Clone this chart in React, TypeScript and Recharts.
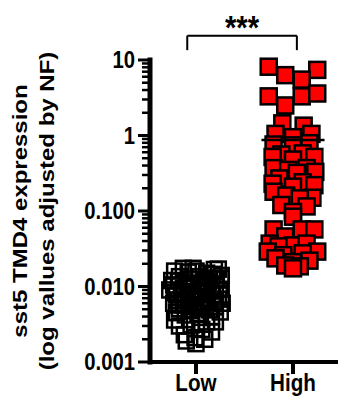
import React from 'react';
import { ScatterChart, Scatter, XAxis, YAxis, ReferenceLine } from 'recharts';

// Categories (x positions 1 and 2)
const categories = ['Low', 'High'];

// High group: expression values and horizontal jitter (category units)
const highValues = [
  8.15, 6.3, 7.4, 5.5, 3.3, 2.5, 3.3, 3.6,
  1.45, 1.35, 1.05, 1.05, 0.95,
  0.76, 0.79, 0.74, 0.56, 0.58, 0.52, 0.52, 0.48,
  0.37, 0.35, 0.37, 0.33, 0.32, 0.27, 0.24, 0.23, 0.21, 0.22,
  0.18, 0.16, 0.15, 0.147, 0.12, 0.115, 0.097, 0.084,
  0.057, 0.057, 0.057, 0.046, 0.037, 0.035, 0.037, 0.034,
  0.029, 0.029, 0.0275, 0.026, 0.0236, 0.022, 0.021, 0.019, 0.0185, 0.0174,
];
const highJitter = [
  -0.25, -0.08, 0.25, 0.09, -0.25, -0.08, 0.09, 0.25,
  -0.11, 0.11, -0.18, 0.19, 0.0,
  -0.2, 0.17, 0.0, -0.12, 0.1, -0.21, 0.22, 0.0,
  -0.2, -0.05, 0.14, 0.23, 0.04, -0.14, 0.1, -0.21, 0.0, 0.22,
  -0.2, -0.07, 0.2, 0.07, -0.12, 0.14, 0.0, 0.0,
  -0.2, 0.09, 0.22, -0.08, -0.24, 0.0, 0.14, -0.15,
  -0.26, 0.25, 0.1, -0.1, -0.18, 0.17, 0.0, -0.08, 0.07, 0.0,
];

// Low group
const lowValues = [
  0.0174, 0.0168, 0.016, 0.015, 0.0174,
  0.0135, 0.0129, 0.0125, 0.0129,
  0.0105, 0.0105, 0.01, 0.0095,
  0.0086, 0.0081, 0.0077, 0.0077,
  0.0066, 0.0063, 0.0063, 0.006,
  0.0054, 0.0051, 0.0049, 0.0046,
  0.0044, 0.0042,
  0.0036, 0.0034, 0.0034,
  0.0031, 0.003, 0.0027, 0.0025,
  0.0023, 0.0021, 0.002, 0.0019, 0.00175,
  0.016, 0.014, 0.0118, 0.011, 0.009, 0.009, 0.0074, 0.007,
  0.0057, 0.006, 0.0051, 0.0105, 0.0081, 0.0135,
  0.017, 0.0155, 0.0145, 0.0125, 0.012, 0.0115, 0.0098, 0.0092,
  0.0088, 0.0083, 0.0079, 0.0072, 0.0068, 0.0065, 0.0061, 0.0058,
  0.0055, 0.0048, 0.0045, 0.004, 0.0039,
];
const lowJitter = [
  -0.13, 0.19, -0.22, 0.11, -0.03,
  -0.17, 0.26, -0.06, 0.14,
  -0.23, 0.04, 0.2, -0.13,
  -0.03, 0.11, -0.2, 0.26,
  -0.11, 0.06, 0.19, -0.23,
  -0.03, -0.17, 0.14, 0.25,
  0.02, -0.11,
  -0.22, 0.11, 0.2,
  -0.05, -0.17, 0.06, 0.16,
  -0.12, -0.01, 0.09, -0.1, 0.0,
  0.0, 0.26, -0.18, 0.08, 0.16, -0.27, 0.0, 0.11,
  -0.13, 0.27, 0.07, -0.05, -0.15, 0.04,
  0.23, -0.08, 0.17, 0.21, -0.25, 0.13, -0.09, 0.24,
  0.06, -0.22, 0.17, -0.05, 0.23, -0.18, 0.1, 0.0,
  0.2, -0.07, -0.2, 0.16, 0.04,
];

// Mean of High group and its bar half-width (category units)
const highMean = 0.87;
const meanHalfWidth = 0.325;

// Significance bracket (x from/to, y leg bottom/top) and text
const bracketX = [0.91, 2.04];
const bracketY = [13.5, 21];
const significance = '***';

// Y ticks
const yMajorTicks = [0.001, 0.01, 0.1, 1, 10];
const yTickLabels: Record<string, string> = {
  '0.001': '0.001',
  '0.01': '0.010',
  '0.1': '0.100',
  '1': '1',
  '10': '10',
};
const yMinorTicks = [
  0.002, 0.003, 0.004, 0.005, 0.006, 0.007, 0.008, 0.009,
  0.02, 0.03, 0.04, 0.05, 0.06, 0.07, 0.08, 0.09,
  0.2, 0.3, 0.4, 0.5, 0.6, 0.7, 0.8, 0.9,
  2, 3, 4, 5, 6, 7, 8, 9,
];
const yLabelLines = ['sst5 TMD4 expression', '(log vallues adjusted by NF)'];

const FONT = "'Liberation Sans', Arial, Helvetica, sans-serif";

const highData = highValues.map((v, i) => ({ x: 2 + highJitter[i], y: v }));
const lowData = lowValues.map((v, i) => ({ x: 1 + lowJitter[i], y: v }));
const meanData = [
  { x: 2 - meanHalfWidth, y: highMean },
  { x: 2 + meanHalfWidth, y: highMean },
];

const YTick = (props: any) => {
  const { x, y, payload } = props;
  const label = yTickLabels[String(payload.value)];
  const major = label !== undefined;
  return (
    <g>
      <line x1={x - (major ? 12 : 8)} x2={x} y1={y} y2={y} stroke="#000" strokeWidth={major ? 3 : 2.5} />
      {major && (
        <text
          transform={`translate(${x - 15},${y}) scale(0.88,1)`}
          textAnchor="end"
          dy="0.36em"
          fontSize={23}
          fontWeight="bold"
          fontFamily={FONT}
          fill="#000"
        >
          {label}
        </text>
      )}
    </g>
  );
};

const XTick = (props: any) => {
  const { x, y, payload } = props;
  const label = categories[Math.round(payload.value) - 1];
  return (
    <g>
      <line x1={x} x2={x} y1={y} y2={y + 12} stroke="#000" strokeWidth={4} />
      <text
        transform={`translate(${x},${y + 29}) scale(0.86,1)`}
        textAnchor="middle"
        fontSize={24}
        fontWeight="bold"
        fontFamily={FONT}
        fill="#000"
      >
        {label}
      </text>
    </g>
  );
};

const YLabel = (props: any) => {
  const vb = props.viewBox || { x: 0, y: 60, width: 150, height: 302 };
  const cy = vb.y + vb.height / 2;
  return (
    <g>
      {yLabelLines.map((line, i) => (
        <text
          key={i}
          transform={`translate(${27 + i * 27},${cy}) scale(0.86,1) rotate(-90)`}
          textAnchor="middle"
          fontSize={24}
          fontWeight="bold"
          fontFamily={FONT}
          fill="#000"
        >
          {line}
        </text>
      ))}
    </g>
  );
};

const StarsLabel = (props: any) => {
  const vb = props.viewBox || { x: 0, y: 0, width: 0 };
  const cx = vb.x + (vb.width || 0) / 2;
  return (
    <text
      transform={`translate(${cx},${vb.y + 3}) scale(0.86,1)`}
      textAnchor="middle"
      fontSize={34}
      fontWeight="bold"
      fontFamily={FONT}
      fill="#000"
    >
      {significance}
    </text>
  );
};

const RedSquare = (props: any) => {
  const { cx, cy } = props;
  return <rect x={cx - 8} y={cy - 8} width={16} height={16} fill="#ff0000" stroke="#000" strokeWidth={2.5} />;
};

const HollowSquare = (props: any) => {
  const { cx, cy } = props;
  return <rect x={cx - 7.5} y={cy - 7.5} width={15} height={15} fill="none" stroke="#000" strokeWidth={2.5} />;
};

const NoShape = () => <g />;

export default function App() {
  return (
    <div style={{ position: 'absolute', left: 0, top: 0, background: '#fff' }}>
      <ScatterChart width={338} height={396} margin={{ top: 60, right: 0, bottom: 0, left: 0 }}>
        <XAxis
          type="number"
          dataKey="x"
          domain={[0.526, 2.464]}
          ticks={[1, 2]}
          interval={0}
          tickSize={0}
          tickMargin={0}
          tick={<XTick />}
          tickLine={false}
          axisLine={{ stroke: '#000', strokeWidth: 4, strokeLinecap: 'square' }}
          height={34}
        />
        <YAxis
          type="number"
          dataKey="y"
          scale="log"
          domain={[0.001, 10]}
          ticks={[...yMajorTicks, ...yMinorTicks]}
          interval={0}
          tickSize={0}
          tickMargin={0}
          tick={<YTick />}
          tickLine={false}
          axisLine={{ stroke: '#000', strokeWidth: 5, strokeLinecap: 'square' }}
          width={150}
          label={YLabel}
        />
        <Scatter data={lowData} shape={HollowSquare} isAnimationActive={false} />
        <Scatter data={highData} shape={RedSquare} isAnimationActive={false} />
        <Scatter
          data={meanData}
          shape={NoShape}
          line={{ stroke: '#000', strokeWidth: 2.5 }}
          isAnimationActive={false}
        />
        <ReferenceLine
          segment={[{ x: bracketX[0], y: bracketY[1] }, { x: bracketX[1], y: bracketY[1] }]}
          stroke="#000"
          strokeWidth={2}
          ifOverflow="visible"
          label={StarsLabel}
        />
        <ReferenceLine
          segment={[{ x: bracketX[0], y: bracketY[0] }, { x: bracketX[0], y: bracketY[1] }]}
          stroke="#000"
          strokeWidth={2}
          ifOverflow="visible"
        />
        <ReferenceLine
          segment={[{ x: bracketX[1], y: bracketY[0] }, { x: bracketX[1], y: bracketY[1] }]}
          stroke="#000"
          strokeWidth={2}
          ifOverflow="visible"
        />
      </ScatterChart>
    </div>
  );
}
